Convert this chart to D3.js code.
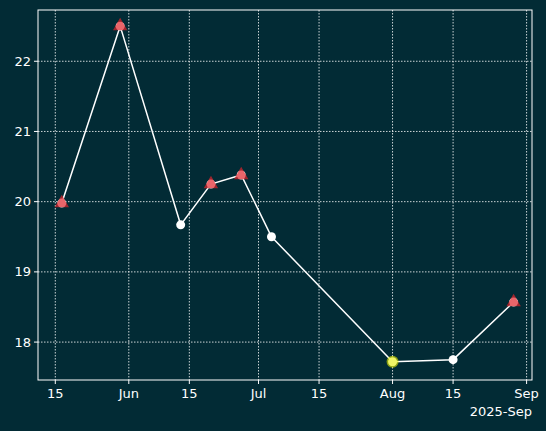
<!DOCTYPE html><html><head><script src="https://cdn.jsdelivr.net/npm/d3@7"></script>
<style>body{margin:0;background:#022b35}text{font-family:"DejaVu Sans";}</style></head><body>
<svg width="546" height="431"></svg>
<script>
const dates=["2025-05-16T12:00","2025-05-30","2025-06-13","2025-06-20","2025-06-27","2025-07-04","2025-08-01","2025-08-15","2025-08-29"];
const values=[19.98,22.5,19.67,20.25,20.38,19.5,17.72,17.75,18.57];
const flagged=[0,1,3,4,8];
const lowest=[6];
const yTicks=[18,19,20,21,22];
const xTickDates=["2025-05-15","2025-06-01","2025-06-15","2025-07-01","2025-07-15","2025-08-01","2025-08-15","2025-09-01"];
const xTickLabels=["15","Jun","15","Jul","15","Aug","15","Sep"];
const data=dates.map((d,i)=>({d:new Date(d),v:values[i],i}));
const svg=d3.select("svg");
const L=38,R=532,T=10,B=380;
const x=d3.scaleTime().domain([new Date("2025-05-11T00:00"),new Date("2025-09-02T06:00")]).range([L,R]);
const y=d3.scaleLinear().domain([17.46,22.73]).range([B,T]);
svg.append("rect").attr("width",546).attr("height",431).attr("fill","#022b35");
const g=svg.append("g");
xTickDates.forEach(t=>{const px=x(new Date(t));g.append("line").attr("x1",px).attr("x2",px).attr("y1",T).attr("y2",B).attr("stroke","#fff").attr("stroke-width",0.8).attr("stroke-dasharray","1.5,1.5");
g.append("line").attr("x1",px).attr("x2",px).attr("y1",B).attr("y2",B+4).attr("stroke","#fff");});
xTickDates.forEach((t,i)=>g.append("text").attr("x",x(new Date(t))).attr("y",B+18).attr("fill","#fff").attr("font-size",13).attr("text-anchor","middle").text(xTickLabels[i]));
g.append("text").attr("x",R).attr("y",B+36).attr("fill","#fff").attr("font-size",13).attr("text-anchor","end").text("2025-Sep");
yTicks.forEach(t=>{const py=y(t);g.append("line").attr("x1",L).attr("x2",R).attr("y1",py).attr("y2",py).attr("stroke","#fff").attr("stroke-width",0.8).attr("stroke-dasharray","1.5,1.5");
g.append("line").attr("x1",L-4).attr("x2",L).attr("y1",py).attr("y2",py).attr("stroke","#fff");
g.append("text").attr("x",L-7).attr("y",py+4.5).attr("fill","#fff").attr("font-size",13).attr("text-anchor","end").text(t);});
g.append("rect").attr("x",L).attr("y",T).attr("width",R-L).attr("height",B-T).attr("fill","none").attr("stroke","#fff").attr("stroke-width",1);
g.append("path").datum(data).attr("d",d3.line().x(d=>x(d.d)).y(d=>y(d.v))).attr("fill","none").attr("stroke","#fff").attr("stroke-width",1.5);
g.selectAll(".pt").data(data).join("circle").attr("cx",d=>x(d.d)).attr("cy",d=>y(d.v)).attr("r",4.5).attr("fill","#fff");
g.selectAll(".tri").data(data.filter(d=>flagged.includes(d.i))).join("path").attr("transform",d=>`translate(${x(d.d)},${y(d.v)})`).attr("d",d3.symbol(d3.symbolTriangle,90)).attr("fill","#e0242b").attr("fill-opacity",0.7);
g.selectAll(".low").data(data.filter(d=>lowest.includes(d.i))).join("circle").attr("cx",d=>x(d.d)).attr("cy",d=>y(d.v)).attr("r",6).attr("fill","#e8f000").attr("fill-opacity",0.6);
</script></body></html>
